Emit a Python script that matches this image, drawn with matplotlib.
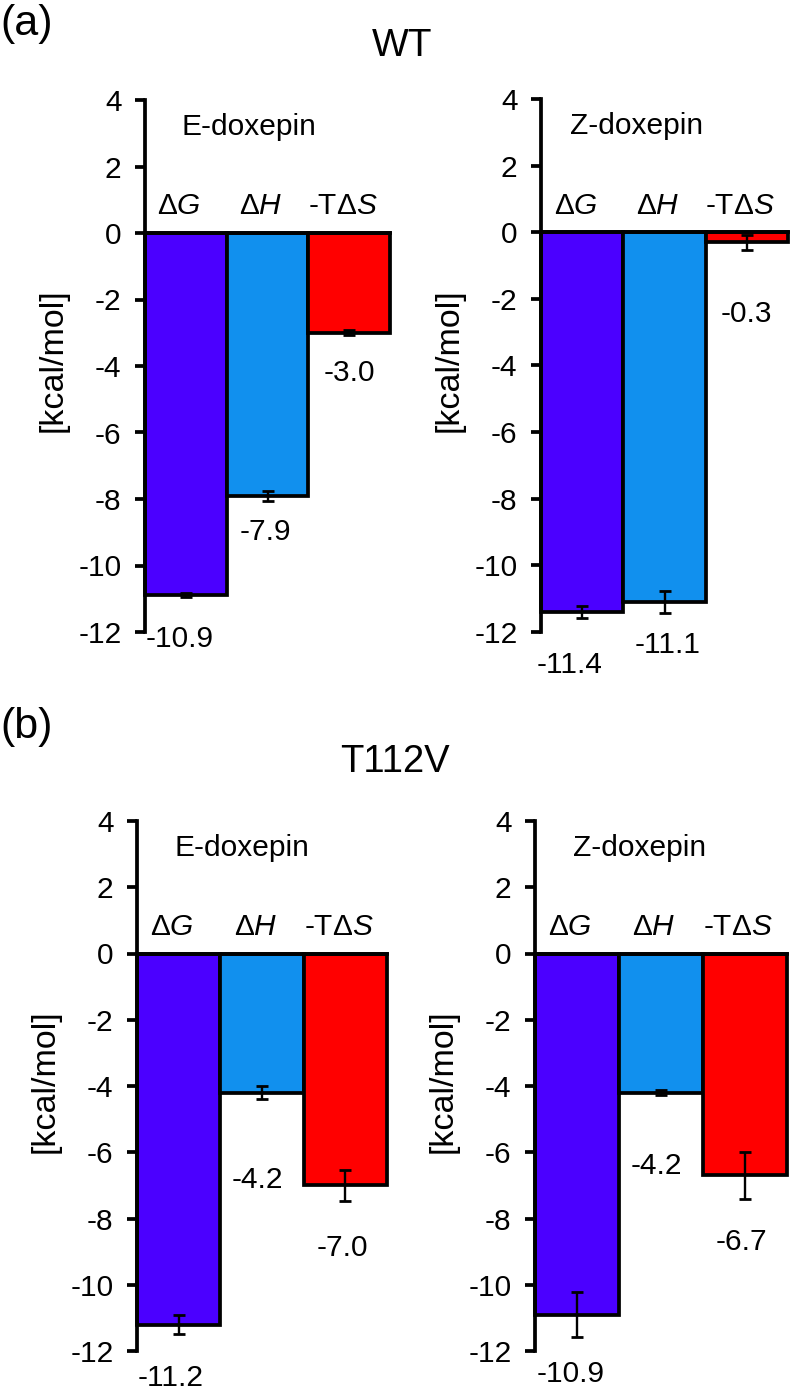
import matplotlib
matplotlib.use("Agg")
import matplotlib.pyplot as plt

plt.rcParams['font.family'] = ['Liberation Sans', 'DejaVu Sans']
plt.rcParams['mathtext.fontset'] = 'custom'
plt.rcParams['mathtext.rm'] = 'Liberation Sans'
plt.rcParams['mathtext.it'] = 'Liberation Sans:italic'
plt.rcParams['axes.unicode_minus'] = False

# ---- data ----
terms = [r'$\Delta\mathit{G}$', r'$\Delta\mathit{H}$', r'-T$\Delta\mathit{S}$']
colors = ['#4B00FF', '#1190EE', '#FF0000']

wt_e_values = [-10.9, -7.9, -3.0]
wt_e_errors = [0.06, 0.15, 0.07]
wt_z_values = [-11.4, -11.1, -0.3]
wt_z_errors = [0.19, 0.32, 0.22]
t112v_e_values = [-11.2, -4.2, -7.0]
t112v_e_errors = [0.29, 0.20, 0.47]
t112v_z_values = [-10.9, -4.2, -6.7]
t112v_z_errors = [0.69, 0.08, 0.70]

yticks = [4, 2, 0, -2, -4, -6, -8, -10, -12]

# ---- layout ----
W, H = 790, 1389
fig = plt.figure(figsize=(W / 100, H / 100), dpi=100)


def box(x0, x1, ytop, ybot):
    return [x0 / W, 1 - ybot / H, (x1 - x0) / W, (ybot - ytop) / H]


panels = [
    dict(rect=box(145, 390, 100, 632), name='E-doxepin', name_x=-0.05,
         values=wt_e_values, errors=wt_e_errors,
         label_y=[-12.2, -9.0, -4.2], label_dx=[-0.08, -0.02, 0.0]),
    dict(rect=box(541, 788, 99, 632), name='Z-doxepin', name_x=-0.15,
         values=wt_z_values, errors=wt_z_errors,
         label_y=[-13.0, -12.4, -2.45], label_dx=[-0.15, 0.04, 0.0]),
    dict(rect=box(137, 387, 821, 1351), name='E-doxepin', name_x=-0.05,
         values=t112v_e_values, errors=t112v_e_errors,
         label_y=[-12.8, -6.85, -8.9], label_dx=[-0.1, -0.05, -0.03]),
    dict(rect=box(535, 787, 821, 1351), name='Z-doxepin', name_x=-0.05,
         values=t112v_z_values, errors=t112v_z_errors,
         label_y=[-12.7, -6.4, -8.7], label_dx=[-0.08, -0.05, -0.04]),
]

LW = 2.7
FS = 21.5
x = [0, 1, 2]
for p in panels:
    ax = fig.add_axes(p['rect'])
    ax.bar(x, p['values'], width=1.0, color=colors, edgecolor='black',
           linewidth=LW, zorder=2, clip_on=False)
    ax.errorbar(x, p['values'], yerr=p['errors'], fmt='none', ecolor='black',
                elinewidth=1.7, capsize=4.5, capthick=2.0, zorder=3,
                clip_on=False)
    ax.set_xlim(-0.5, 2.5)
    ax.set_ylim(-12, 4)
    ax.set_yticks(yticks)
    ax.set_yticklabels([str(t) for t in yticks])
    ax.tick_params(axis='y', direction='out', length=7, width=LW,
                   labelsize=FS, pad=10)
    ax.set_xticks([])
    for s in ['top', 'right']:
        ax.spines[s].set_visible(False)
    ax.spines['left'].set_linewidth(LW)
    ax.spines['bottom'].set_position(('data', 0))
    ax.spines['bottom'].set_linewidth(LW)
    ax.spines['bottom'].set_zorder(4)
    ax.set_ylabel('[kcal/mol]', fontsize=24.5)
    width_px = p['rect'][2] * W
    ax.yaxis.set_label_coords(-76 / width_px, 0.51)
    ax.text(p['name_x'], 3.2, p['name'], fontsize=FS, ha='left', va='center')
    for i, t in enumerate(terms):
        ax.text(x[i] - 0.08, 0.8, t, fontsize=FS, ha='center', va='center')
    for i, v in enumerate(p['values']):
        ax.text(x[i] + p['label_dx'][i], p['label_y'][i], f'{v:.1f}',
                fontsize=FS, ha='center', va='center', clip_on=False)

fig.text(0.0, 1 - 24 / H, '(a)', fontsize=31, ha='left', va='center')
fig.text(402 / W, 1 - 46 / H, 'WT', fontsize=28, ha='center', va='center')
fig.text(0.0, 1 - 727 / H, '(b)', fontsize=31, ha='left', va='center')
fig.text(395 / W, 1 - 762 / H, 'T112V', fontsize=27.5, ha='center', va='center')

fig.savefig('out.png', dpi=100)
